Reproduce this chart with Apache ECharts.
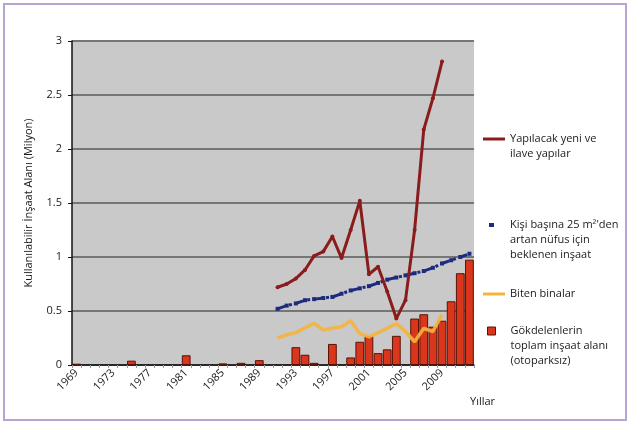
<!DOCTYPE html>
<html>
<head>
<meta charset="utf-8">
<script src="https://cdn.jsdelivr.net/npm/echarts@6/dist/echarts.min.js"></script>
<style>
html, body { margin: 0; padding: 0; background: #fff; }
#frame {
  position: absolute; left: 3px; top: 3px; width: 620px; height: 414px;
  border: 2px solid #b9a3d3;
}
#myChart { position: absolute; left: 0; top: 0; width: 629px; height: 424px; }
</style>
</head>
<body>
<div id="frame"></div>
<div id="myChart"></div>
<script>
// kategoriler (yıllar)
var years = ['1969', '1970', '1971', '1972', '1973', '1974', '1975', '1976', '1977', '1978',
  '1979', '1980', '1981', '1982', '1983', '1984', '1985', '1986', '1987', '1988',
  '1989', '1990', '1991', '1992', '1993', '1994', '1995', '1996', '1997', '1998',
  '1999', '2000', '2001', '2002', '2003', '2004', '2005', '2006', '2007', '2008',
  '2009', '2010', '2011', '2012']

// Gökdelenlerin toplam inşaat alanı (sütunlar), 1969-2012
var gokdelen = [0.012, null, null, null, null, null, 0.04, null, null, null,
  null, null, 0.09, null, null, null, 0.015, null, 0.02, null,
  0.045, null, null, null, 0.165, 0.095, 0.02, null, 0.195, null,
  0.07, 0.215, 0.265, 0.11, 0.145, 0.27, null, 0.43, 0.47, 0.355,
  0.41, 0.59, 0.85, 0.975]

// çizgiler 1991'den başlıyor
var lineStart = '1991'
var yapilacak = [0.72, 0.75, 0.80, 0.88, 1.01, 1.05, 1.19, 0.99, 1.25, 1.52,
  0.84, 0.91, 0.68, 0.43, 0.60, 1.25, 2.18, 2.47, 2.81]
var kisiBasina = [0.52, 0.55, 0.57, 0.60, 0.61, 0.62, 0.63, 0.66, 0.69, 0.71,
  0.73, 0.76, 0.79, 0.81, 0.83, 0.85, 0.87, 0.90, 0.94, 0.97, 1.00, 1.03]
var biten = [0.25, 0.28, 0.30, 0.345, 0.385, 0.325, 0.34, 0.355, 0.41, 0.29,
  0.26, 0.30, 0.34, 0.385, 0.31, 0.215, 0.34, 0.31, 0.465]

var yTicks = [0, 0.5, 1, 1.5, 2, 2.5, 3]

var names = {
  yeni: 'Yapılacak yeni ve\nilave yapılar',
  kisi: 'Kişi başına 25 m²\'den\nartan nüfus için\nbeklenen inşaat',
  biten: 'Biten binalar',
  gok: 'Gökdelenlerin\ntoplam inşaat alanı\n(otoparksız)'
}

// 1991 öncesini boş bırak
function pad (arr) {
  var out = []
  var s = years.indexOf(lineStart)
  for (var i = 0; i < years.length; i++) {
    var v = arr[i - s]
    out.push(i >= s && v !== undefined ? v : null)
  }
  return out
}

var font = 'Open Sans'
var LH = 15
var txt = { fontFamily: font, fontSize: 11, color: '#1a1a1a', lineHeight: LH }

// simge ilk satırın hizasında dursun diye başa boş satır ekle
function legText (name) {
  var n = name.split('\n').length
  var pre = ''
  for (var i = 1; i < n; i++) pre += ' \n'
  return pre + name
}

function leg (name, left, iconY, w, h, color, border, padLeft) {
  var n = name.split('\n').length
  var total = 2 * n - 1
  return {
    data: [name],
    orient: 'vertical',
    left: left,
    top: iconY - total * LH / 2,
    padding: 0,
    itemWidth: w,
    itemHeight: h,
    icon: 'rect',
    selectedMode: false,
    formatter: legText,
    itemStyle: { color: color, borderColor: border || color, borderWidth: border ? 1 : 0 },
    textStyle: Object.assign({}, txt, { padding: [0, 0, 0, padLeft] })
  }
}

var myChart = echarts.init(document.getElementById('myChart'))
myChart.setOption({
  animation: false,
  textStyle: { fontFamily: font },
  grid: {
    left: 72, right: 155, top: 41, bottom: 59,
    show: true, backgroundColor: '#c9c9c9', borderWidth: 0
  },
  legend: [
    leg(names.yeni, 483, 139, 22, 3, '#8b1c1c', null, 0),
    leg(names.kisi, 489, 225, 5, 4, '#1d2b7f', null, 11),
    leg(names.biten, 483, 294, 22, 3, '#f5b43c', null, 0),
    leg(names.gok, 487, 331, 8, 8, '#d9361c', '#5a1208', 10)
  ],
  xAxis: {
    type: 'category',
    data: years,
    boundaryGap: true,
    name: 'Yıllar',
    nameLocation: 'end',
    nameGap: -4,
    nameTextStyle: { fontFamily: font, fontSize: 11, color: '#1a1a1a', verticalAlign: 'top', padding: [31, 0, 0, 0] },
    axisLine: { lineStyle: { color: '#111', width: 1.5 } },
    axisTick: { show: true, interval: 0, length: 3, lineStyle: { color: '#9a9a9a' } },
    axisLabel: { interval: 3, rotate: 45, margin: 6, fontFamily: font, fontSize: 11, color: '#1a1a1a' },
    splitLine: { show: false }
  },
  yAxis: {
    type: 'value',
    min: 0,
    max: 3,
    interval: 0.5,
    name: 'Kullanılabilir İnşaat Alanı (Milyon)',
    nameLocation: 'middle',
    nameGap: 38,
    nameTextStyle: { fontFamily: font, fontSize: 11, color: '#1a1a1a' },
    axisLine: { show: true, lineStyle: { color: '#111', width: 1.5 } },
    axisTick: { show: true, length: 4, lineStyle: { color: '#111' } },
    axisLabel: {
      margin: 10, fontFamily: font, fontSize: 11, color: '#1a1a1a',
      formatter: function (v) { return yTicks.indexOf(v) > -1 ? String(v) : '' }
    },
    splitLine: { show: true, lineStyle: { color: '#767676', width: 2 } }
  },
  series: [
    {
      name: names.gok,
      type: 'bar',
      barCategoryGap: '4%',
      itemStyle: { color: '#d9361c', borderColor: '#5a1208', borderWidth: 1 },
      data: gokdelen,
      z: 2
    },
    {
      name: names.biten,
      type: 'line',
      data: pad(biten),
      symbol: 'none',
      lineStyle: { color: '#f5b43c', width: 3.5, opacity: 0.9 },
      itemStyle: { color: '#f5b43c' },
      z: 3
    },
    {
      name: names.kisi,
      type: 'line',
      data: pad(kisiBasina),
      symbol: 'rect',
      symbolSize: 4,
      lineStyle: { color: '#1d2b7f', width: 3, type: [8, 4, 3, 4] },
      itemStyle: { color: '#1d2b7f' },
      z: 4
    },
    {
      name: names.yeni,
      type: 'line',
      data: pad(yapilacak),
      symbol: 'circle',
      symbolSize: 4,
      lineStyle: { color: '#8b1c1c', width: 3 },
      itemStyle: { color: '#8b1c1c' },
      z: 5
    }
  ]
})
</script>
</body>
</html>
